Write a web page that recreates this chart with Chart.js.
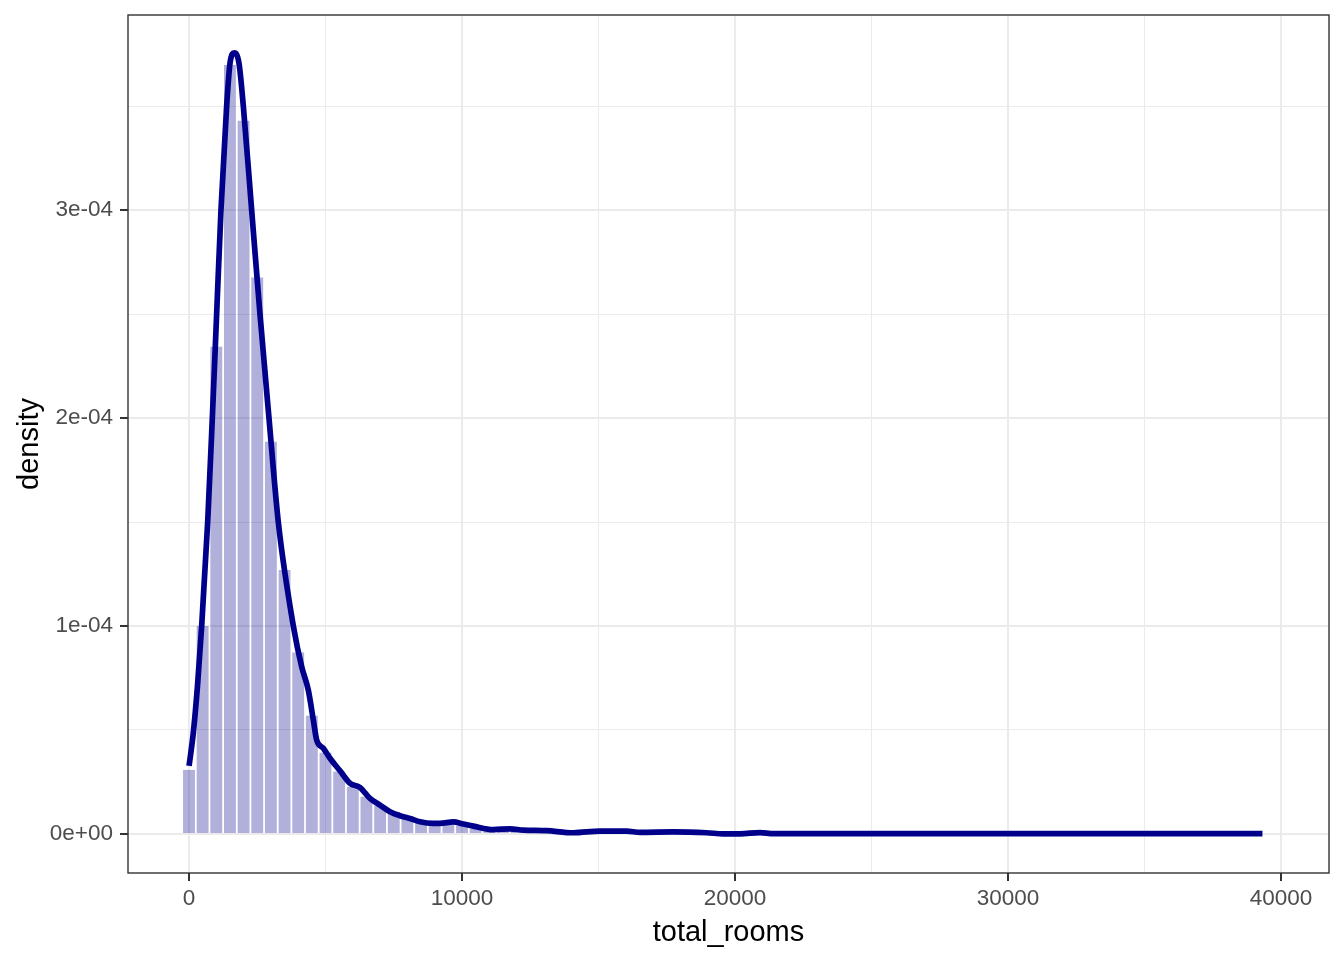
<!DOCTYPE html>
<html>
<head>
<meta charset="utf-8">
<script src="https://cdn.jsdelivr.net/npm/chart.js@4.4.1/dist/chart.umd.min.js"></script>
<style>
  html, body { margin: 0; padding: 0; background: #fff; }
  #wrap { width: 1344px; height: 960px; }
</style>
</head>
<body>
<div id="wrap"><canvas id="densityChart" width="1344" height="960"></canvas></div>
<script>
// histogram bins (binwidth 500, centred on the values below)
var binCenters = [0, 500, 1000, 1500, 2000, 2500, 3000, 3500, 4000, 4500,
    5000, 5500, 6000, 6500, 7000, 7500, 8000, 8500, 9000, 9500,
    10000, 10500, 11000, 11500, 12000, 12500, 13000, 13500, 14000, 14500,
    15000, 15500, 16000, 16500, 17000, 17500, 18000, 18500, 19000, 19500,
    20000, 20500, 21000, 21500];
var binDensity = [0.308e-4, 1.000e-4, 2.343e-4, 3.697e-4, 3.429e-4, 2.675e-4, 1.886e-4, 1.269e-4, 0.873e-4, 0.568e-4,
    0.391e-4, 0.300e-4, 0.227e-4, 0.179e-4, 0.135e-4, 0.106e-4, 0.083e-4, 0.064e-4, 0.051e-4, 0.047e-4,
    0.040e-4, 0.027e-4, 0.020e-4, 0.022e-4, 0.020e-4, 0.017e-4, 0.015e-4, 0.010e-4, 0.008e-4, 0.011e-4,
    0.013e-4, 0.013e-4, 0.012e-4, 0.008e-4, 0.009e-4, 0.009e-4, 0.007e-4, 0.006e-4, 0.004e-4, 0.002e-4,
    0.002e-4, 0.005e-4, 0.006e-4, 0.002e-4];

// kernel density curve
var curveX = [2, 158, 318, 465, 685, 855, 1013, 1172, 1380, 1502,
    1660, 1832, 1990, 2295, 2600, 2930, 3271, 3822, 4128, 4371,
    4554, 4676, 4920, 5165, 5531, 5897, 6264, 6630, 6996, 7363,
    7729, 8095, 8462, 8950, 9194, 9683, 10050, 10415, 11148, 11758,
    12246, 13100, 13835, 14078, 15055, 16032, 16520, 17740, 18963, 19573,
    20183, 20916, 21404, 25000, 30000, 35000, 39320];
var curveY = [0.327e-4, 0.486e-4, 0.724e-4, 1.000e-4, 1.500e-4, 2.000e-4, 2.500e-4, 3.000e-4, 3.500e-4, 3.705e-4,
    3.756e-4, 3.705e-4, 3.500e-4, 3.000e-4, 2.500e-4, 2.000e-4, 1.500e-4, 1.000e-4, 0.804e-4, 0.692e-4,
    0.548e-4, 0.452e-4, 0.412e-4, 0.364e-4, 0.304e-4, 0.244e-4, 0.224e-4, 0.171e-4, 0.139e-4, 0.107e-4,
    0.088e-4, 0.075e-4, 0.059e-4, 0.051e-4, 0.051e-4, 0.058e-4, 0.048e-4, 0.038e-4, 0.021e-4, 0.025e-4,
    0.019e-4, 0.016e-4, 0.007e-4, 0.006e-4, 0.014e-4, 0.014e-4, 0.008e-4, 0.010e-4, 0.006e-4, 0.001e-4,
    0.001e-4, 0.007e-4, 0.002e-4, 0.002e-4, 0.0015e-4, 0.0015e-4, 0.0015e-4];

// axis ticks
var xMajorTicks = [0, 10000, 20000, 30000, 40000];
var xMinorTicks = [5000, 15000, 25000, 35000];
var yMajorTicks = [0, 1e-4, 2e-4, 3e-4];
var yMajorLabels = ['0e+00', '1e-04', '2e-04', '3e-04'];
var yMinorTicks = [0.5e-4, 1.5e-4, 2.5e-4, 3.5e-4];

var FONT = "'Liberation Sans', Arial, sans-serif";

function buildTicks(major, minor) {
    return function(scale) {
        var t = [];
        major.forEach(function(v) { t.push({ value: v, major: true }); });
        minor.forEach(function(v) { t.push({ value: v, major: false }); });
        t.sort(function(a, b) { return a.value - b.value; });
        scale.ticks = t;
    };
}
function isMajor(ctx) { return ctx.tick && ctx.tick.major; }

var panelBorder = {
    id: 'panelBorder',
    afterDraw: function(chart) {
        var a = chart.chartArea, c = chart.ctx;
        c.save();
        c.strokeStyle = '#333333';
        c.lineWidth = 1.4;
        c.strokeRect(a.left, a.top, a.right - a.left, a.bottom - a.top);
        c.restore();
    }
};

var ctx = document.getElementById('densityChart').getContext('2d');
var chart = new Chart(ctx, {
    data: {
        datasets: [{
            type: 'line',
            label: 'density',
            data: curveX.map(function(x, i) { return { x: x, y: curveY[i] }; }),
            borderColor: '#00008B',
            borderWidth: 5.7,
            borderCapStyle: 'butt',
            pointRadius: 0,
            cubicInterpolationMode: 'monotone',
            order: 0
        }, {
            type: 'bar',
            label: 'histogram',
            data: binCenters.map(function(x, i) { return { x: x, y: binDensity[i] }; }),
            backgroundColor: 'rgba(0, 0, 139, 0.31)',
            borderWidth: 0,
            barPercentage: 0.87,
            categoryPercentage: 1,
            order: 1
        }]
    },
    options: {
        responsive: false,
        animation: false,
        devicePixelRatio: 1,
        layout: { padding: { left: 0, right: 15, top: 15, bottom: 0 } },
        plugins: { legend: { display: false }, tooltip: { enabled: false } },
        scales: {
            x: {
                type: 'linear',
                offset: false,
                min: -2234,
                max: 41758,
                afterBuildTicks: buildTicks(xMajorTicks, xMinorTicks),
                afterFit: function(s) { s.height = 87; s.paddingLeft = 0; s.paddingRight = 0; },
                grid: {
                    offset: false,
                    color: '#EBEBEB',
                    lineWidth: function(c) { return isMajor(c) ? 2 : 1; },
                    tickColor: function(c) { return isMajor(c) ? '#333333' : 'rgba(0,0,0,0)'; },
                    tickWidth: 2,
                    tickLength: 8
                },
                border: { display: false },
                ticks: {
                    autoSkip: false,
                    maxRotation: 0,
                    padding: 4,
                    color: '#4D4D4D',
                    font: { family: FONT, size: 22.5 },
                    callback: function(v) { return xMajorTicks.indexOf(v) >= 0 ? String(v) : ''; }
                },
                title: {
                    display: true,
                    text: 'total_rooms',
                    color: '#000000',
                    font: { family: FONT, size: 29 },
                    padding: { top: 0, bottom: 10 }
                }
            },
            y: {
                type: 'linear',
                min: -0.1875e-4,
                max: 3.9375e-4,
                afterBuildTicks: buildTicks(yMajorTicks, yMinorTicks),
                afterFit: function(s) { s.width = 128; s.paddingTop = 0; s.paddingBottom = 0; },
                grid: {
                    color: '#EBEBEB',
                    lineWidth: function(c) { return isMajor(c) ? 2 : 1; },
                    tickColor: function(c) { return isMajor(c) ? '#333333' : 'rgba(0,0,0,0)'; },
                    tickWidth: 2,
                    tickLength: 8
                },
                border: { display: false },
                ticks: {
                    autoSkip: false,
                    padding: 7,
                    color: '#4D4D4D',
                    font: { family: FONT, size: 22.5 },
                    callback: function(v) {
                        for (var i = 0; i < yMajorTicks.length; i++) {
                            if (Math.abs(yMajorTicks[i] - v) < 1e-9) return yMajorLabels[i];
                        }
                        return '';
                    }
                },
                title: {
                    display: true,
                    text: 'density',
                    color: '#000000',
                    font: { family: FONT, size: 29 },
                    padding: { top: 13, bottom: 0 }
                }
            }
        }
    },
    plugins: [panelBorder]
});
</script>
</body>
</html>
